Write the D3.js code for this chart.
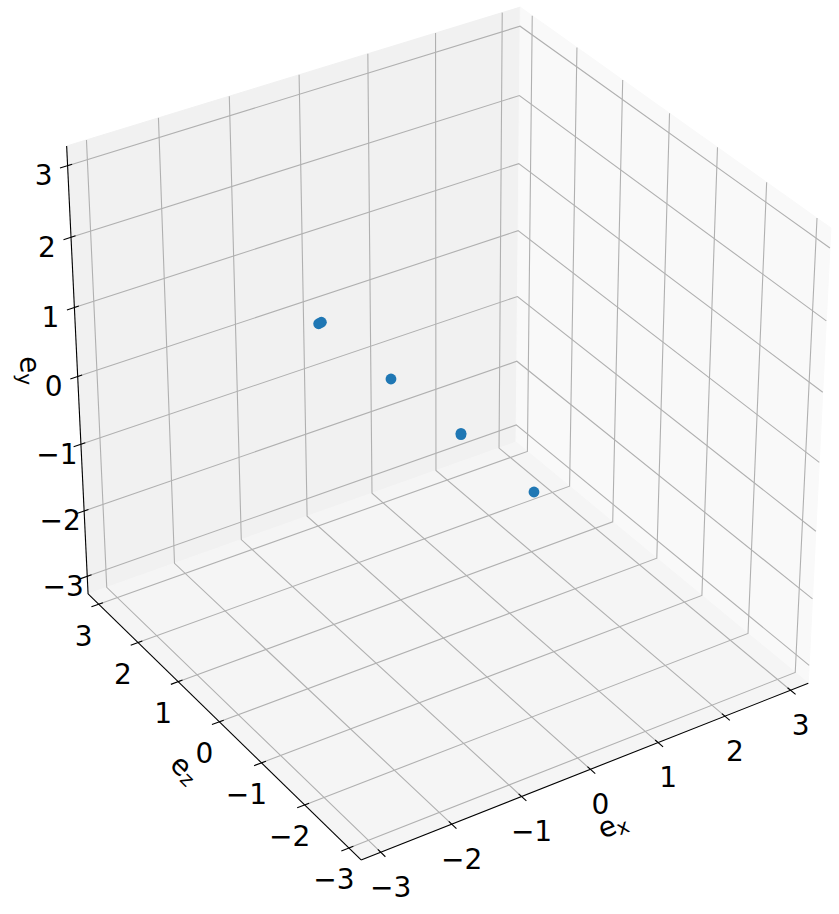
<!DOCTYPE html>
<html>
<head>
<meta charset="utf-8">
<script src="https://cdn.jsdelivr.net/npm/d3@7"></script>
<style>
  body { margin: 0; background: #fff; }
  svg text { font-family: "DejaVu Sans", sans-serif; fill: #000; }
</style>
</head>
<body>
<div id="chart"></div>
<script>
// ---- data ----
const tickValues = [-3, -2, -1, 0, 1, 2, 3];
const tickLabels = ["\u22123", "\u22122", "\u22121", "0", "1", "2", "3"];
const axisLimits = [-Math.PI, Math.PI];

// scatter samples (each cluster holds a couple of nearly equal points)
const pointsEx = [-1.757, -1.719, -0.752, 0.257, 0.257, 1.349];
const pointsEy = [1.950, 1.958, 0.833, -0.300, -0.320, -1.557];
const pointsEz = [0, 0, 0, 0, 0, 0];

// ---- view ----
const width = 839, height = 914;
const elev = 32.7 * Math.PI / 180;
const azim = -122.9 * Math.PI / 180;
const dist = 18.2;
const scale = 268.1;
const center = [443.4, 418.9];

// panes sit 1/48 of the range outside the limits
const pad = (axisLimits[1] - axisLimits[0]) / 48;
const lo = axisLimits[0] - pad, hi = axisLimits[1] + pad;
const tickDelta = (axisLimits[1] - axisLimits[0]) / 12;

const xScale = d3.scaleLinear().domain([lo, hi]).range([-1, 1]); // e_x
const yScale = d3.scaleLinear().domain([lo, hi]).range([-1, 1]); // e_y (vertical)
const zScale = d3.scaleLinear().domain([lo, hi]).range([-1, 1]); // e_z

const eye = [Math.cos(elev) * Math.cos(azim), Math.cos(elev) * Math.sin(azim), Math.sin(elev)];
const right = [-Math.sin(azim), Math.cos(azim), 0];
const up = [-Math.sin(elev) * Math.cos(azim), -Math.sin(elev) * Math.sin(azim), Math.cos(elev)];

function project(ex, ey, ez) {
  const p = [xScale(ex), zScale(ez), yScale(ey)];
  const dot = v => p[0] * v[0] + p[1] * v[1] + p[2] * v[2];
  const f = dist / (dist - dot(eye));
  return [center[0] + scale * dot(right) * f, center[1] - scale * dot(up) * f];
}
function depth(ex, ey, ez) {
  return xScale(ex) * eye[0] + zScale(ez) * eye[1] + yScale(ey) * eye[2];
}

const line = d3.line();
const svg = d3.select("#chart").append("svg")
  .attr("width", width)
  .attr("height", height)
  .style("background", "#fff");

// ---- panes ----
const panes = [
  { color: "#f1f1f1", corners: [[lo, lo, hi], [hi, lo, hi], [hi, hi, hi], [lo, hi, hi]] }, // e_z = max
  { color: "#f9f9f9", corners: [[hi, lo, lo], [hi, lo, hi], [hi, hi, hi], [hi, hi, lo]] }, // e_x = max
  { color: "#f5f5f5", corners: [[lo, lo, lo], [hi, lo, lo], [hi, lo, hi], [lo, lo, hi]] }  // e_y = min
];
svg.append("g").selectAll("path")
  .data(panes)
  .enter().append("path")
  .attr("d", d => line(d.corners.map(c => project(...c))) + "Z")
  .attr("fill", d => d.color)
  .attr("stroke", d => d.color)
  .attr("stroke-width", 1);

// ---- grid ----
const gridLines = [];
tickValues.forEach(t => {
  gridLines.push([[t, hi, hi], [t, lo, hi], [t, lo, lo]]);   // e_x
  gridLines.push([[hi, hi, t], [hi, lo, t], [lo, lo, t]]);   // e_z
  gridLines.push([[lo, t, hi], [hi, t, hi], [hi, t, lo]]);   // e_y
});
svg.append("g").selectAll("path")
  .data(gridLines)
  .enter().append("path")
  .attr("d", d => line(d.map(c => project(...c))))
  .attr("fill", "none")
  .attr("stroke", "#b0b0b0")
  .attr("stroke-width", 1.1);

// ---- axes ----
const tickOut = 0.2 * tickDelta, tickIn = 0.12 * tickDelta;
const axes = [
  {
    name: "y", sub: "y",
    ends: [[lo, lo, hi], [lo, hi, hi]],
    at: t => [lo, t, hi],
    tick: t => [[lo - tickOut, t, hi], [lo + tickIn, t, hi]],
    labelShift: [-24, 10],
    titleShift: [-47, -6]
  },
  {
    name: "z", sub: "z",
    ends: [[lo, lo, lo], [lo, lo, hi]],
    at: t => [lo, lo, t],
    tick: t => [[lo - tickOut, lo, t], [lo + tickIn, lo, t]],
    labelShift: [-15, 32],
    titleShift: [-34, 47]
  },
  {
    name: "x", sub: "x",
    ends: [[lo, lo, lo], [hi, lo, lo]],
    at: t => [t, lo, lo],
    tick: t => [[t, lo, lo - tickOut], [t, lo, lo + tickIn]],
    labelShift: [10, 35],
    titleShift: [22, 55]
  }
];

axes.forEach(ax => {
  const g = svg.append("g").attr("class", `axis ${ax.name}`);
  const p0 = project(...ax.ends[0]);
  const p1 = project(...ax.ends[1]);

  g.append("path")
    .attr("d", line([p0, p1]))
    .attr("stroke", "#000")
    .attr("stroke-width", 1.1);

  g.selectAll(".tick")
    .data(tickValues)
    .enter().append("path")
    .attr("class", "tick")
    .attr("d", t => line(ax.tick(t).map(c => project(...c))))
    .attr("stroke", "#000")
    .attr("stroke-width", 1.1);

  g.selectAll(".tick-label")
    .data(tickValues)
    .enter().append("text")
    .attr("class", "tick-label")
    .attr("x", t => project(...ax.at(t))[0] + ax.labelShift[0])
    .attr("y", t => project(...ax.at(t))[1] + ax.labelShift[1])
    .attr("text-anchor", "middle")
    .attr("dominant-baseline", "central")
    .style("font-size", "28px")
    .text((t, i) => tickLabels[i]);

  // axis title, turned along the projected edge
  let angle = Math.atan2(p1[1] - p0[1], p1[0] - p0[0]) * 180 / Math.PI;
  angle = ((angle + 180) % 180 + 180) % 180;
  if (angle > 90) angle -= 180;
  const mid = project(...ax.ends.reduce((a, b) => a.map((v, k) => (v + b[k]) / 2)));
  const tx = mid[0] + ax.titleShift[0], ty = mid[1] + ax.titleShift[1];
  const title = g.append("text")
    .attr("transform", `translate(${tx},${ty}) rotate(${angle})`)
    .attr("text-anchor", "middle")
    .attr("dominant-baseline", "central")
    .style("font-size", "28px");
  title.append("tspan").text("e");
  title.append("tspan")
    .attr("dy", 6)
    .style("font-size", "20px")
    .text(ax.sub);
});

// ---- scatter ----
const points = pointsEx.map((ex, i) => ({ ex, ey: pointsEy[i], ez: pointsEz[i] }))
  .sort((a, b) => depth(a.ex, a.ey, a.ez) - depth(b.ex, b.ey, b.ez));

svg.append("g").selectAll("circle")
  .data(points)
  .enter().append("circle")
  .attr("cx", d => project(d.ex, d.ey, d.ez)[0])
  .attr("cy", d => project(d.ex, d.ey, d.ez)[1])
  .attr("r", 5.4)
  .attr("fill", "#1f77b4");
</script>
</body>
</html>
